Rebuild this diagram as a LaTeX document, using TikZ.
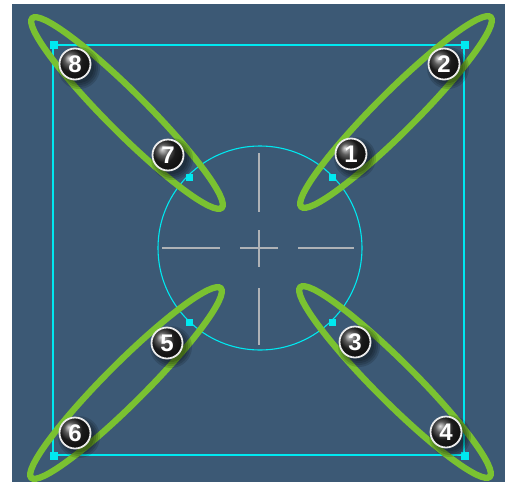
\documentclass[tikz,border=0pt]{standalone}
\usepackage{fontspec}
\setmainfont{Liberation Sans}
\definecolor{bgblue}{RGB}{60,89,117}
\definecolor{cyanline}{RGB}{0,232,240}
\definecolor{leafgreen}{RGB}{122,194,49}
\definecolor{crossgray}{RGB}{175,178,182}
\begin{document}
\begin{tikzpicture}[x=1pt,y=-1pt,
  frame/.style={draw=cyanline,line width=1.3pt},
  handle/.style={fill=cyanline,draw=none,minimum size=8pt,inner sep=0pt,outer sep=0pt},
  leaf/.style={draw=leafgreen,line width=6.3pt},
  cross/.style={draw=crossgray,line width=1.2pt},
  badge/.style={circle,minimum size=31pt,inner sep=0pt,ball color=black!85,draw=white!85!gray,line width=1.8pt,
    text=white,font=\fontsize{24}{24}\selectfont\bfseries},
]
\useasboundingbox (0,0) rectangle (505,482);
\fill[white] (0,0) rectangle (505,482);
\fill[bgblue] (12,4) rectangle (505,482);

% frame square
\draw[frame] (53,45) rectangle (464,455);
% circle
\node[circle,draw=cyanline,line width=1.1pt,minimum size=204pt,inner sep=0pt] (ring) at (260,248) {};
% crosshair
\draw[cross] (259,153) -- (259,212);
\draw[cross] (259,288) -- (259,345);
\draw[cross] (162,248) -- (220,248);
\draw[cross] (298,248) -- (354,248);
\draw[cross] (240,248) -- (278,248);
\draw[cross] (259,230) -- (259,267);

% leaves
\draw[leaf,rotate around={45:(396,112)}] (396,112) ellipse [x radius=134, y radius=20];
\draw[leaf,rotate around={-45:(127,113)}] (127,113) ellipse [x radius=134, y radius=20];
\draw[leaf,rotate around={-45:(395,382)}] (395,382) ellipse [x radius=134, y radius=20];
\draw[leaf,rotate around={45:(126,383)}] (126,383) ellipse [x radius=134, y radius=20];

% handles
\node[handle] (h1) at (54,45) {};
\node[handle] (h2) at (465,45) {};
\node[handle] (h3) at (465,456) {};
\node[handle] (h4) at (54,456) {};
\node[handle,minimum size=7pt] (k1) at (189,177) {};
\node[handle,minimum size=7pt] (k2) at (332,177) {};
\node[handle,minimum size=7pt] (k3) at (189,322) {};
\node[handle,minimum size=7pt] (k4) at (332,322) {};

% badge shadows
\foreach \px/\py in {351/154,444/64,355/342,446/432,167/343,75/433,168/155,75/64}{
  \foreach \r in {15,17,19,21}{\fill[black,opacity=0.14] (\px+4,\py+4) circle (\r);}
}
% badges
\node[badge] (b1) at (351,154) {1};
\node[badge] (b2) at (444,64) {2};
\node[badge] (b3) at (355,342) {3};
\node[badge] (b4) at (446,432) {4};
\node[badge] (b5) at (167,343) {5};
\node[badge] (b6) at (75,433) {6};
\node[badge] (b7) at (168,155) {7};
\node[badge] (b8) at (75,64) {8};
\end{tikzpicture}
\end{document}
